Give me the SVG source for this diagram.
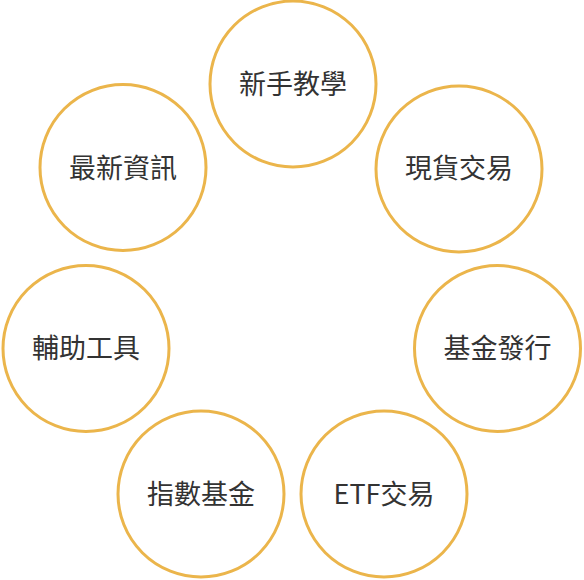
<svg xmlns="http://www.w3.org/2000/svg" width="584" height="580" viewBox="0 0 584 580">
<style>
.c{fill:#fff;stroke:#ebb54b;stroke-width:3}
.t{font-family:"Noto Sans CJK TC","Noto Sans CJK SC",sans-serif;font-size:27px;fill:#333;text-anchor:middle}
</style>
<rect width="584" height="580" fill="#fff"/>
<g id="connectors"></g>
<g id="n1"><circle class="c" cx="293" cy="84" r="83"/><text class="t" x="293" y="94">新手教學</text></g>
<g id="n2"><circle class="c" cx="459" cy="169" r="83"/><text class="t" x="459" y="178">現貨交易</text></g>
<g id="n3"><circle class="c" cx="497.5" cy="348.5" r="83"/><text class="t" x="497.5" y="358">基金發行</text></g>
<g id="n4"><circle class="c" cx="384" cy="494" r="83"/><text class="t" x="384" y="504">ETF交易</text></g>
<g id="n5"><circle class="c" cx="201" cy="494" r="83"/><text class="t" x="201" y="504">指數基金</text></g>
<g id="n6"><circle class="c" cx="86" cy="348.5" r="83"/><text class="t" x="86" y="358">輔助工具</text></g>
<g id="n7"><circle class="c" cx="123" cy="167.5" r="83"/><text class="t" x="123" y="178">最新資訊</text></g>
</svg>
